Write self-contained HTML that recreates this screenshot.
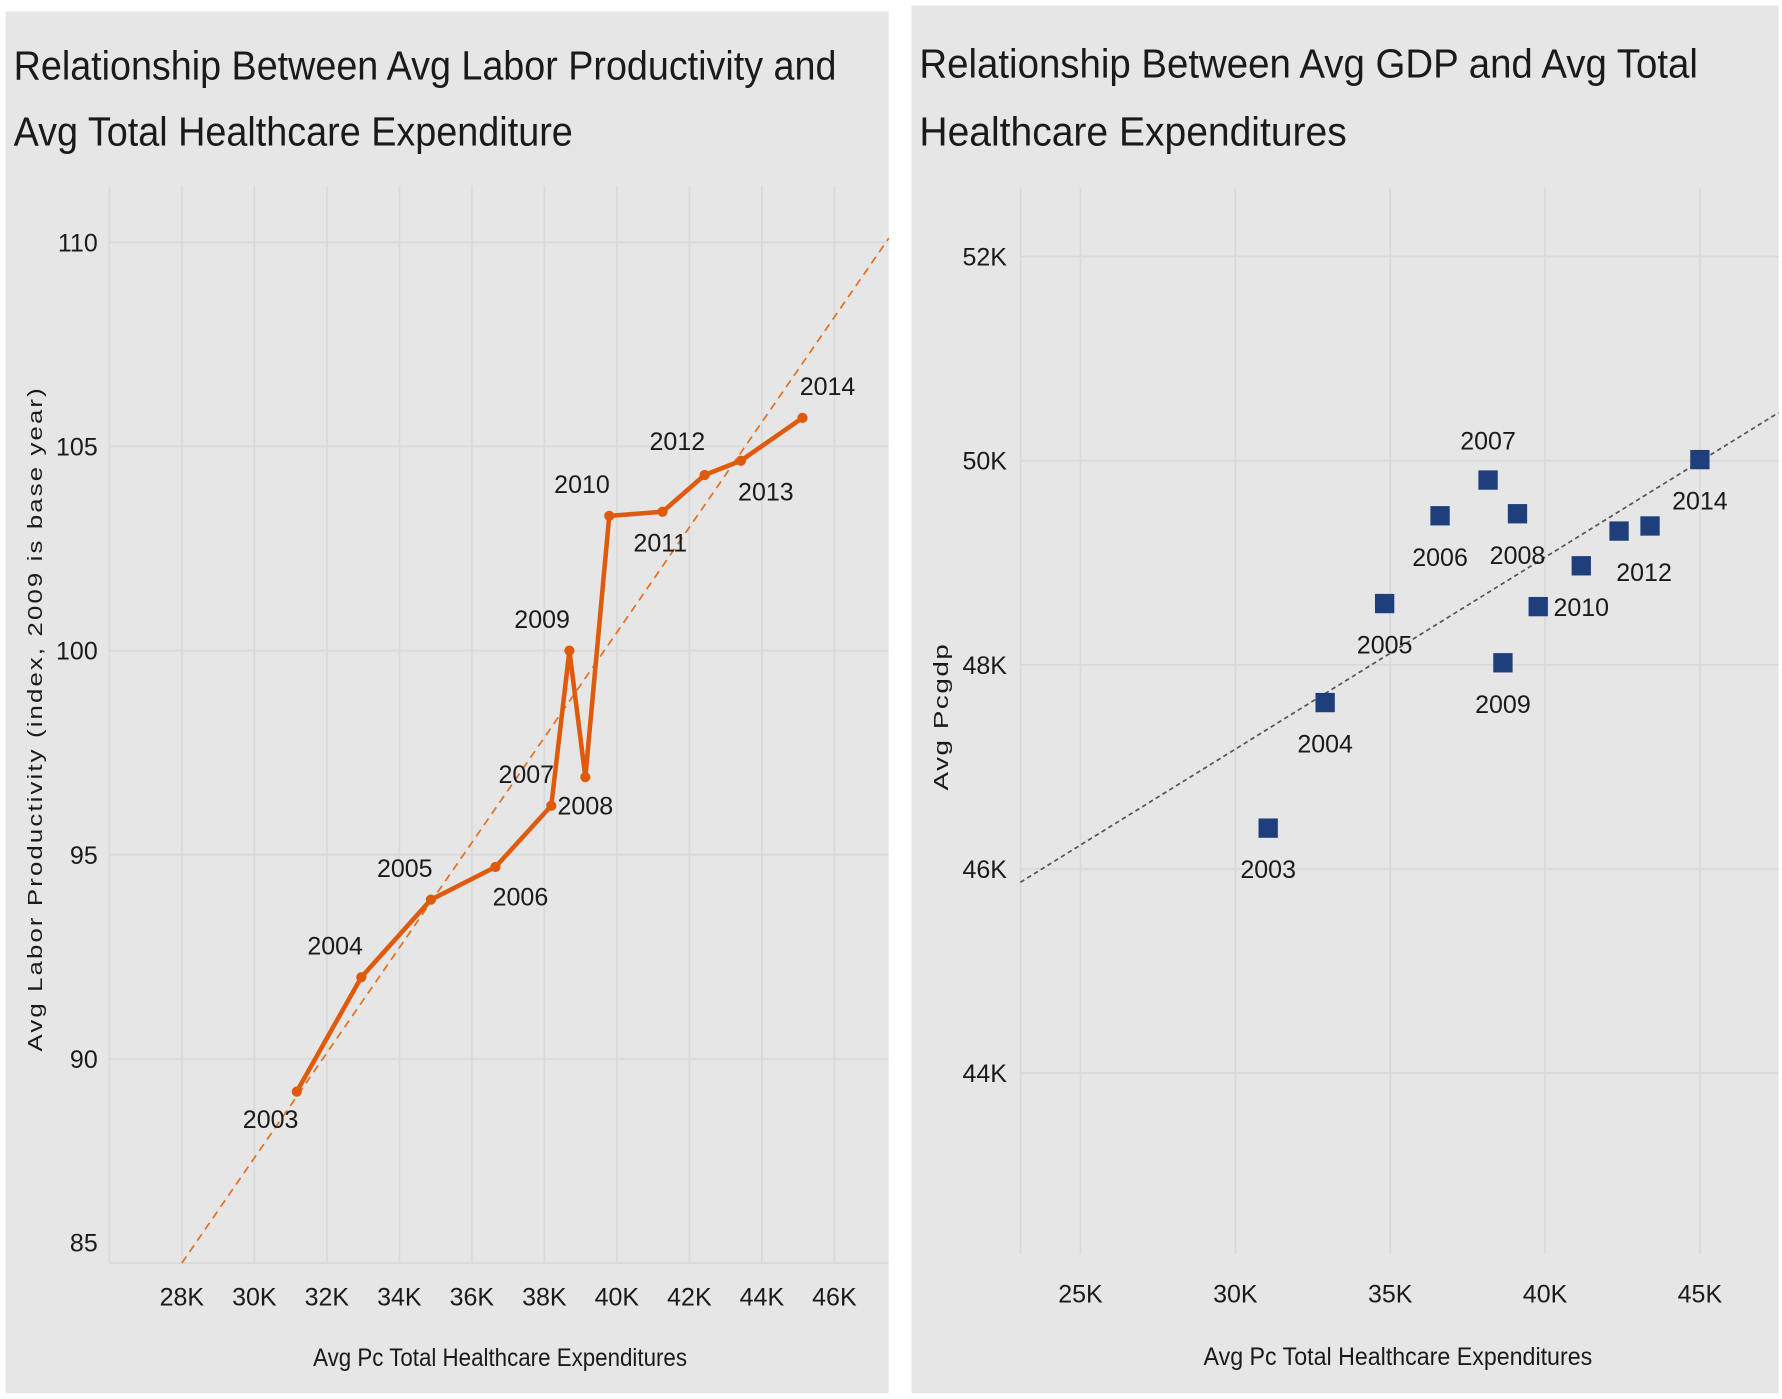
<!DOCTYPE html>
<html><head><meta charset="utf-8"><style>
html,body{margin:0;padding:0;background:#fff;}
svg{display:block;}
text{font-family:"Liberation Sans",sans-serif;fill:#1a1a1a;}
</style></head><body>
<svg id="root" width="1782" height="1399" viewBox="0 0 1568 1230" preserveAspectRatio="none" xmlns="http://www.w3.org/2000/svg">
<rect x="5" y="10" width="777" height="1215" fill="#e6e6e6"/>
<rect x="802" y="5" width="763" height="1220" fill="#e6e6e6"/>
<text x="12" y="70" font-size="36" textLength="724" lengthAdjust="spacingAndGlyphs">Relationship Between Avg Labor Productivity and</text>
<text x="12" y="128" font-size="36" textLength="492" lengthAdjust="spacingAndGlyphs">Avg Total Healthcare Expenditure</text>
<text x="809" y="68" font-size="36" textLength="685" lengthAdjust="spacingAndGlyphs">Relationship Between Avg GDP and Avg Total</text>
<text x="809" y="128" font-size="36" textLength="376" lengthAdjust="spacingAndGlyphs">Healthcare Expenditures</text>
<g id="left"></g>
<g id="right"></g>
</svg>
<script>
// Left chart data
const years = ["2003","2004","2005","2006","2007","2008","2009","2010","2011","2012","2013","2014"];
const laborX = [31.17,32.95,34.87,36.65,38.19,39.13,38.69,39.79,41.26,42.42,43.42,45.12];
const laborY = [89.2,92.0,93.9,94.7,96.2,96.9,100.0,103.3,103.4,104.3,104.65,105.7];
const leftXTicks = [28,30,32,34,36,38,40,42,44,46];
const leftYTicks = [85,90,95,100,105,110];
const laborTrend = [[28,85],[47.5,110.1]];
// Right chart data
const gdpX = [31.06,32.9,34.82,36.61,38.16,39.11,38.64,39.78,41.17,42.39,43.39,45.0];
const gdpY = [46.40,47.63,48.60,49.46,49.81,49.48,48.02,48.57,48.97,49.31,49.36,50.01];
const gdpLabels = ["2003","2004","2005","2006","2007","2008","2009","","2010","2012","","2014"];
const rightXTicks = [25,30,35,40,45];
const rightYTicks = [44,46,48,50,52];
const gdpTrend = [[23.06,45.87],[47.54,50.47]];

const NS="http://www.w3.org/2000/svg";
function mk(p,tag,attrs,txt){const e=document.createElementNS(NS,tag);for(const k in attrs)e.setAttribute(k,attrs[k]);if(txt!==undefined)e.textContent=txt;p.appendChild(e);return e;}

// left scales
const lx=v=>160+(v-28)*31.9;
const ly=v=>572-(v-100)*35.9;
const L=document.getElementById('left');
for(const t of [26,...leftXTicks]){const l=mk(L,'line',{x1:lx(t),x2:lx(t),y1:163,y2:1110,stroke:'#d9d9d9','stroke-width':1.5});

}
for(const t of leftYTicks){const l=mk(L,'line',{x1:96,x2:782,y1:ly(t),y2:ly(t),stroke:'#d9d9d9','stroke-width':1.5});


const tx=mk(L,'text',{x:86,y:ly(t)+8-(t===85?18:0),'font-size':22,'text-anchor':'end'},String(t));

}
for(const t of leftXTicks){const tx=mk(L,'text',{x:lx(t),y:1148,'font-size':22,'text-anchor':'middle'},t+'K');

}
const tl=mk(L,'line',{x1:lx(laborTrend[0][0]),y1:ly(laborTrend[0][1]),x2:lx(laborTrend[1][0]),y2:ly(laborTrend[1][1]),stroke:'#e07020','stroke-width':1.5,'stroke-dasharray':'7,5'});


const idx=laborX.map((v,i)=>i).sort((a,b)=>laborX[a]-laborX[b]);
const pl=mk(L,'polyline',{points:idx.map(i=>lx(laborX[i])+','+ly(laborY[i])).join(' '),fill:'none',stroke:'#e05a0c','stroke-width':4,'stroke-linejoin':'round'});


const lOff=[[-23,32],[-23,-20],[-23,-20],[22,34],[-22,-20],[0,33],[-24,-20],[-24,-20],[-2,35],[-24,-22],[22,35],[22,-20]];
laborX.forEach((v,i)=>{const c=mk(L,'circle',{cx:lx(v),cy:ly(laborY[i]),r:4.5,fill:'#e05a0c'});


const t=mk(L,'text',{x:lx(v)+lOff[i][0],y:ly(laborY[i])+lOff[i][1],'font-size':22,'text-anchor':'middle'},years[i]);

});
const lyt=mk(L,'text',{x:0,y:0,'font-size':18,'text-anchor':'middle','letter-spacing':'1.5',transform:'translate(37,632) rotate(-90)',textLength:585,lengthAdjust:'spacingAndGlyphs'},'Avg Labor Productivity (index, 2009 is base year)');


const lxt=mk(L,'text',{x:440,y:1201,'font-size':22,'text-anchor':'middle',textLength:329,lengthAdjust:'spacingAndGlyphs'},'Avg Pc Total Healthcare Expenditures');



// right scales
const rx=v=>1087+(v-30)*27.25;
const ry=v=>764-(v-46)*89.75;
const R=document.getElementById('right');
for(const t of rightXTicks){const l=mk(R,'line',{x1:rx(t),x2:rx(t),y1:165,y2:1103,stroke:'#d9d9d9','stroke-width':1.5});


const tx=mk(R,'text',{x:rx(t),y:1145,'font-size':22,'text-anchor':'middle'},t+'K');

}
for(const t of rightYTicks){const l=mk(R,'line',{x1:898,x2:1565,y1:ry(t),y2:ry(t),stroke:'#d9d9d9','stroke-width':1.5});


const tx=mk(R,'text',{x:886,y:ry(t)+8,'font-size':22,'text-anchor':'end'},t+'K');

}
const ax=mk(R,'line',{x1:898,x2:898,y1:165,y2:1103,stroke:'#d9d9d9','stroke-width':1.5});


const rt=mk(R,'line',{x1:rx(gdpTrend[0][0]),y1:ry(gdpTrend[0][1]),x2:rx(gdpTrend[1][0]),y2:ry(gdpTrend[1][1]),stroke:'#555','stroke-width':1.5,'stroke-dasharray':'4,3'});


gdpX.forEach((v,i)=>{const s=mk(R,'rect',{x:rx(v)-8.5,y:ry(gdpY[i])-8.5,width:17,height:17,fill:'#1f3e7c'});


if(gdpLabels[i]){const above=gdpLabels[i]==='2007';
const t=mk(R,'text',{x:rx(v)+(gdpLabels[i]==='2012'?22:0),y:ry(gdpY[i])+(above?-27:44),'font-size':22,'text-anchor':'middle'},gdpLabels[i]);

}});
const ryt=mk(R,'text',{x:0,y:0,'font-size':18,'text-anchor':'middle','letter-spacing':'1',transform:'translate(834,630) rotate(-90)',textLength:130,lengthAdjust:'spacingAndGlyphs'},'Avg Pcgdp');


const rxt=mk(R,'text',{x:1230,y:1200,'font-size':22,'text-anchor':'middle',textLength:342,lengthAdjust:'spacingAndGlyphs'},'Avg Pc Total Healthcare Expenditures');


</script>
</body></html>
